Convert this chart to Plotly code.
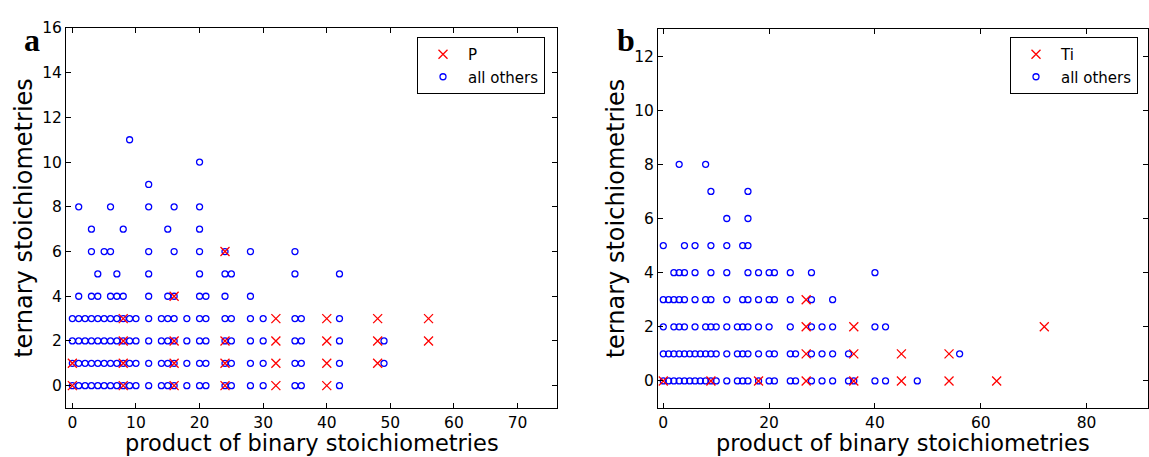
import plotly.graph_objects as go
from plotly.subplots import make_subplots

# Panel a: phosphorus ternaries vs. all other elements.
# Keys are ternary stoichiometry counts, values are binary-product x positions.
P_MARKED = {
    0: [0, 8, 16, 24, 32, 40],
    1: [0, 8, 16, 24, 32, 40, 48],
    2: [8, 16, 24, 32, 40, 48, 56],
    3: [8, 32, 40, 48, 56],
    4: [16],
    6: [24],
}
A_OTHERS = {
    0: [0, 1, 2, 3, 4, 5, 6, 7, 8, 9, 10, 12, 14, 15, 16, 18, 20, 21, 24, 25, 28, 30, 35, 36, 42],
    1: [0, 1, 2, 3, 4, 5, 6, 7, 8, 9, 10, 12, 14, 15, 16, 18, 20, 21, 24, 25, 28, 30, 35, 36, 42, 49],
    2: [0, 1, 2, 3, 4, 5, 6, 7, 8, 9, 10, 12, 14, 15, 16, 18, 20, 21, 24, 25, 28, 30, 35, 36, 42, 49],
    3: [0, 1, 2, 3, 4, 5, 6, 7, 8, 9, 10, 12, 14, 15, 16, 18, 20, 21, 24, 25, 28, 30, 35, 36, 42],
    4: [1, 3, 4, 6, 7, 8, 12, 15, 16, 20, 21, 24, 28],
    5: [4, 7, 12, 20, 24, 25, 35, 42],
    6: [3, 5, 6, 12, 16, 20, 24, 28, 35],
    7: [3, 8, 15, 20],
    8: [1, 6, 12, 16, 20],
    9: [12],
    10: [20],
    11: [9],
}

# Panel b: titanium ternaries vs. all other elements.
TI_MARKED = {
    0: [0, 9, 18, 27, 36, 45, 54, 63],
    1: [27, 36, 45, 54],
    2: [27, 36, 72],
    3: [27],
}
B_OTHERS = {
    0: [0, 1, 2, 3, 4, 5, 6, 7, 8, 9, 10, 12, 14, 15, 16, 18, 20, 21, 24, 25, 28, 30, 32, 35, 36, 40, 42, 48],
    1: [0, 1, 2, 3, 4, 5, 6, 7, 8, 9, 10, 12, 14, 15, 16, 18, 20, 21, 24, 25, 28, 30, 32, 35, 56],
    2: [0, 2, 3, 4, 6, 8, 9, 10, 12, 14, 15, 16, 18, 20, 24, 28, 30, 32, 40, 42],
    3: [0, 1, 2, 3, 4, 6, 8, 9, 12, 15, 16, 18, 20, 21, 24, 28, 32],
    4: [2, 3, 4, 6, 9, 12, 16, 18, 20, 21, 24, 28, 40],
    5: [0, 4, 6, 9, 12, 15, 16],
    6: [12, 16],
    7: [9, 16],
    8: [3, 8],
}

A_XTICKS = [0, 10, 20, 30, 40, 50, 60, 70]
A_YTICKS = [0, 2, 4, 6, 8, 10, 12, 14, 16]
B_XTICKS = [0, 20, 40, 60, 80]
B_YTICKS = [0, 2, 4, 6, 8, 10, 12]

X_TITLE = "product of binary stoichiometries"
Y_TITLE = "ternary stoichiometries"


def flatten(rows):
    xs, ys = [], []
    for y, row in rows.items():
        for x in row:
            xs.append(x)
            ys.append(y)
    return xs, ys


FONT = "DejaVu Sans"
BLUE = "#0000ff"
RED = "#ff0000"
W, H = 1149, 457

fig = make_subplots(rows=1, cols=2)


def add_panel(col, marked, others, label, legend_name):
    ox, oy = flatten(others)
    mx, my = flatten(marked)
    # circles first so the red crosses sit on top of them
    fig.add_trace(
        go.Scatter(
            x=ox, y=oy, mode="markers", name="all others", legend=legend_name,
            legendrank=2,
            marker=dict(symbol="circle-open", size=6, color=BLUE,
                        line=dict(color=BLUE, width=1.3)),
        ),
        row=1, col=col,
    )
    fig.add_trace(
        go.Scatter(
            x=mx, y=my, mode="markers", name=label, legend=legend_name,
            legendrank=1,
            marker=dict(symbol="x-thin-open", size=9, color=RED,
                        line=dict(color=RED, width=1.3)),
        ),
        row=1, col=col,
    )


add_panel(1, P_MARKED, A_OTHERS, "P", "legend")
add_panel(2, TI_MARKED, B_OTHERS, "Ti", "legend2")

axis_common = dict(
    showgrid=False, zeroline=False, showline=True, linecolor="black",
    linewidth=1, mirror="ticks", ticks="inside", ticklen=5,
    tickcolor="black", tickfont=dict(family=FONT, size=15.5, color="black"),
    automargin=False,
)
title_font = dict(family=FONT, size=24, color="black")

fig.update_xaxes(axis_common)
fig.update_yaxes(axis_common)

legend_common = dict(
    xanchor="left", yanchor="top",
    bordercolor="black", borderwidth=1, bgcolor="white",
    font=dict(family=FONT, size=15, color="black"),
    itemwidth=40, tracegroupgap=0, traceorder="normal",
)

xdom_a = [66 / W, 557 / W]
xdom_b = [658 / W, 1148 / W]
BOTTOM = 49 / H


def x_title(dom):
    # axis title placed below the tick labels, hugging the bottom edge
    return dict(text=X_TITLE, x=(dom[0] + dom[1]) / 2, y=0, xref="paper", yref="paper",
                xanchor="center", yanchor="bottom", showarrow=False, borderpad=0,
                font=dict(family=FONT, size=22.5, color="black"))


fig.update_layout(
    width=W, height=H,
    margin=dict(l=0, r=0, t=0, b=0),
    paper_bgcolor="white", plot_bgcolor="white",
    xaxis=dict(domain=xdom_a, range=[-1, 76.2], tickvals=A_XTICKS),
    yaxis=dict(domain=[BOTTOM, 429 / H], range=[-1, 16],
               tickvals=A_YTICKS,
               title=dict(text=Y_TITLE, font=title_font, standoff=2)),
    xaxis2=dict(domain=xdom_b, range=[-1, 91.6], tickvals=B_XTICKS),
    yaxis2=dict(domain=[BOTTOM, 428 / H], range=[-1, 13],
                tickvals=B_YTICKS,
                title=dict(text=Y_TITLE, font=title_font, standoff=2)),
    legend=dict(x=417 / W, y=(H - 37) / H, **legend_common),
    legend2=dict(x=1010 / W, y=(H - 37) / H, **legend_common),
    showlegend=True,
    annotations=[
        x_title(xdom_a),
        x_title(xdom_b),
        dict(text="<b>a</b>", x=22 / W, y=(H - 20) / H, xref="paper", yref="paper",
             showarrow=False, font=dict(family="Liberation Serif", size=32, color="black")),
        dict(text="<b>b</b>", x=626 / W, y=(H - 20) / H, xref="paper", yref="paper",
             showarrow=False, font=dict(family="Liberation Serif", size=32, color="black")),
    ],
)

fig.write_html("out.html")
